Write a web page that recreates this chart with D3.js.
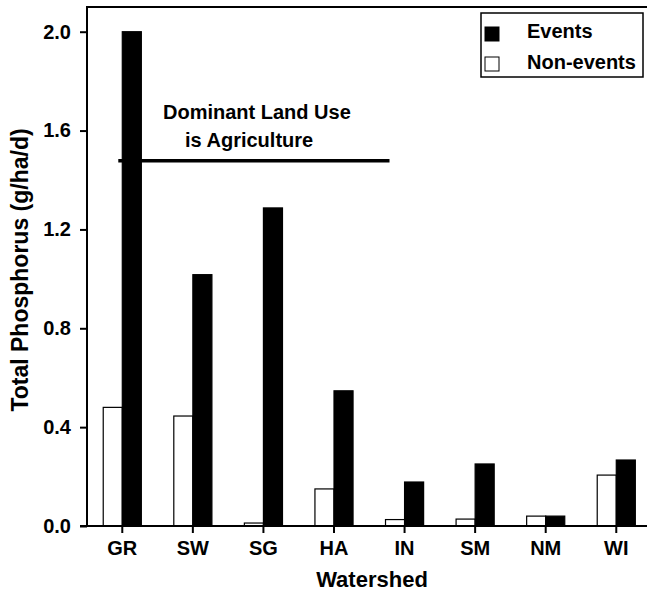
<!DOCTYPE html>
<html>
<head>
<meta charset="utf-8">
<script src="https://cdn.jsdelivr.net/npm/d3@7"></script>
<style>
  body { margin: 0; background: #fff; }
  svg { display: block; font-family: Arial, "Liberation Sans", sans-serif; font-weight: bold; }
</style>
</head>
<body>
<div id="chart"></div>
<script>
// ********** DATA **********
const watersheds = ['GR', 'SW', 'SG', 'HA', 'IN', 'SM', 'NM', 'WI'];
const nonEvents = [0.48, 0.445, 0.012, 0.15, 0.026, 0.028, 0.04, 0.206];
const events = [2.0, 1.017, 1.287, 0.547, 0.178, 0.251, 0.04, 0.267];
const yTicks = [0, 0.4, 0.8, 1.2, 1.6, 2.0];
const seriesNames = ['Non-events', 'Events'];
const legendNames = ['Events', 'Non-events'];
const landUseLevel = 1.478;
const landUseRange = ['GR', 'IN'];

const width = 647, height = 594;
// plot area (right side runs off the picture, as in the original)
const margin = { top: 7, left: 87, bottom: 68 };
const step = 70.57;

const colors = (name) => name === 'Events' ? '#000' : '#fff';

const svg = d3.select('#chart')
	.append('svg')
	.attr('width', width)
	.attr('height', height);

// Scales
const x0 = d3.scaleBand()
	.domain(watersheds)
	.range([margin.left, margin.left + step * watersheds.length])
	.paddingInner(0.46)
	.paddingOuter(0.23);

const x1 = d3.scaleBand()
	.domain(seriesNames)
	.range([0, x0.bandwidth()]);

const y = d3.scaleLinear()
	.domain([0, 2.1])
	.range([height - margin.bottom, margin.top]);

// Bars
const rows = watersheds.map((w, i) => ({ id: w, values: [
	{ key: 'Non-events', value: nonEvents[i] },
	{ key: 'Events', value: events[i] }
]}));

const groups = svg.append('g')
	.selectAll('g.group')
	.data(rows)
	.enter()
	.append('g')
	.attr('class', 'group')
	.attr('transform', d => `translate(${x0(d.id)},0)`);

groups.selectAll('rect')
	.data(d => d.values)
	.enter()
	.append('rect')
	.attr('x', d => x1(d.key))
	.attr('y', d => y(d.value))
	.attr('width', x1.bandwidth())
	.attr('height', d => y(0) - y(d.value))
	.attr('fill', d => colors(d.key))
	.attr('stroke', '#000')
	.attr('stroke-width', 1.2);

// Frame: top line and axes
svg.append('line')
	.attr('x1', margin.left).attr('x2', width)
	.attr('y1', margin.top).attr('y2', margin.top)
	.attr('stroke', '#000').attr('stroke-width', 2);

const yAxis = svg.append('g')
	.attr('transform', `translate(${margin.left},0)`)
	.call(d3.axisLeft(y).tickValues(yTicks).tickFormat(d3.format('.1f')).tickSize(7).tickSizeOuter(0).tickPadding(9));

const xAxis = svg.append('g')
	.attr('transform', `translate(0,${y(0)})`)
	.call(d3.axisBottom(x0).tickSize(7).tickSizeOuter(0).tickPadding(8));

// extend baseline to the picture edge and up to the frame top
xAxis.select('.domain').remove();
svg.append('line')
	.attr('x1', margin.left - 7).attr('x2', width)
	.attr('y1', y(0)).attr('y2', y(0))
	.attr('stroke', '#000').attr('stroke-width', 2);
yAxis.select('.domain').remove();
svg.append('line')
	.attr('x1', margin.left).attr('x2', margin.left)
	.attr('y1', margin.top - 1).attr('y2', y(0) + 1)
	.attr('stroke', '#000').attr('stroke-width', 2);

svg.selectAll('.tick line').attr('stroke-width', 2);
svg.selectAll('.tick text')
	.attr('font-size', 20)
	.attr('font-family', 'Arial, "Liberation Sans", sans-serif')
	.attr('font-weight', 'bold')
	.attr('fill', '#000');

// Axis titles
svg.append('text')
	.attr('x', 372)
	.attr('y', 587)
	.attr('text-anchor', 'middle')
	.attr('font-size', 22)
	.text('Watershed');

svg.append('text')
	.attr('transform', `translate(28, 270) rotate(-90)`)
	.attr('text-anchor', 'middle')
	.attr('font-size', 23)
	.text('Total Phosphorus (g/ha/d)');

// Land use annotation
svg.append('line')
	.attr('x1', x0(landUseRange[0]) + x1('Events') - 4)
	.attr('x2', x0(landUseRange[1]) + 4)
	.attr('y1', y(landUseLevel)).attr('y2', y(landUseLevel))
	.attr('stroke', '#000').attr('stroke-width', 3.5);

svg.append('text')
	.attr('x', 163).attr('y', 119)
	.attr('font-size', 20)
	.text('Dominant Land Use');
svg.append('text')
	.attr('x', 185).attr('y', 147)
	.attr('font-size', 20)
	.text('is Agriculture');

// Legend
const legend = svg.append('g').attr('class', 'legendGroup');
legend.append('rect')
	.attr('x', 481).attr('y', 13)
	.attr('width', 162).attr('height', 64)
	.attr('fill', '#fff')
	.attr('stroke', '#000').attr('stroke-width', 1.5);

legend.selectAll('rect.legend')
	.data(legendNames)
	.enter()
	.append('rect')
	.attr('class', 'legend')
	.attr('x', 485)
	.attr('y', (d, i) => 27 + i * 30)
	.attr('width', 14)
	.attr('height', 14)
	.attr('fill', d => colors(d))
	.attr('stroke', '#000')
	.attr('stroke-width', 1);

legend.selectAll('text.legend-text')
	.data(legendNames)
	.enter()
	.append('text')
	.attr('class', 'legend-text')
	.attr('x', 527)
	.attr('y', (d, i) => 38 + i * 31)
	.attr('font-size', 20)
	.text(d => d);
</script>
</body>
</html>
